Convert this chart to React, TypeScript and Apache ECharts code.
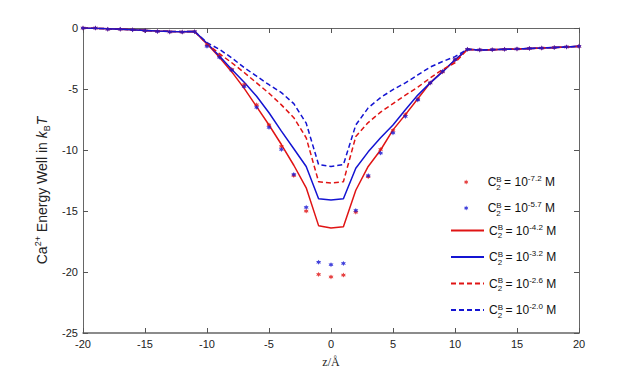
import React, { useEffect, useRef } from "react";
import * as echarts from "echarts";

const zValues = [
  -20, -19, -18, -17, -16, -15, -14, -13, -12, -11, -10, -9, -8, -7, -6, -5, -4, -3, -2, -1, 0,
  1, 2, 3, 4, 5, 6, 7, 8, 9, 10, 11, 12, 13, 14, 15, 16, 17, 18, 19, 20,
];

const exponents = ["-7.2", "-5.7", "-4.2", "-3.2", "-2.6", "-2.0"];

const redScatter = [
  0, 0, -0.1, -0.1, -0.15, -0.22, -0.28, -0.32, -0.33, -0.3,
  -1.4, -2.3, -3.4, -4.65, -6.3, -7.95, -9.7, -12.1, -15.0, -20.2, -20.4, -20.25, -15.1, -12.2, -9.95, -8.4, -7.1, -5.85, -4.5, -3.6, -2.6,
  -1.75, -1.8, -1.78, -1.75, -1.72, -1.68, -1.64, -1.6, -1.55, -1.5,
];
const blueScatter = [
  0, 0, -0.1, -0.1, -0.15, -0.22, -0.28, -0.32, -0.33, -0.3,
  -1.5, -2.4, -3.45, -4.8, -6.5, -8.15, -9.95, -12.0, -14.7, -19.2, -19.4, -19.3, -14.95, -12.1, -10.25, -8.6, -7.25, -5.9, -4.5, -3.55, -2.6,
  -1.75, -1.8, -1.78, -1.75, -1.72, -1.68, -1.64, -1.6, -1.55, -1.5,
];
const redSolid = [
  0, -0.02, -0.06, -0.1, -0.14, -0.2, -0.25, -0.28, -0.3, -0.28,
  -1.3, -2.4, -3.6, -4.95, -6.45, -7.95, -9.55, -11.25, -13.1, -16.2, -16.4, -16.3, -13.3, -11.35, -10.0, -8.35, -7.1, -5.8, -4.5, -3.55, -2.65,
  -1.75, -1.8, -1.78, -1.75, -1.72, -1.68, -1.64, -1.6, -1.55, -1.5,
];
const blueSolid = [
  0, -0.02, -0.06, -0.1, -0.14, -0.2, -0.25, -0.28, -0.3, -0.28,
  -1.25, -2.3, -3.4, -4.45, -5.6, -6.95, -8.45, -9.9, -11.35, -14.0, -14.1, -14.0, -11.5, -10.15, -9.0, -7.95, -6.7, -5.5, -4.5, -3.6, -2.6,
  -1.75, -1.8, -1.78, -1.75, -1.72, -1.68, -1.64, -1.6, -1.55, -1.5,
];
const redDashed = [
  0, -0.02, -0.06, -0.1, -0.14, -0.2, -0.25, -0.28, -0.3, -0.28,
  -1.3, -2.1, -2.85, -3.65, -4.5, -5.35, -6.3, -7.35, -9.0, -12.6, -12.7, -12.6, -8.9, -7.75, -6.9, -6.2, -5.5, -4.85, -4.1, -3.4, -2.85,
  -1.75, -1.8, -1.78, -1.75, -1.72, -1.68, -1.64, -1.6, -1.55, -1.5,
];
const blueDashed = [
  0, -0.02, -0.06, -0.1, -0.14, -0.2, -0.25, -0.28, -0.3, -0.28,
  -1.2, -1.75, -2.45, -3.25, -3.95, -4.65, -5.3, -6.2, -7.8, -11.2, -11.35, -11.2, -7.95, -6.55, -5.7, -5.05, -4.5, -3.85, -3.2, -2.75, -2.35,
  -1.75, -1.8, -1.78, -1.75, -1.72, -1.68, -1.64, -1.6, -1.55, -1.5,
];

const xTicks = { min: -20, max: 20, interval: 5 };
const yTicks = { min: -25, max: 0, interval: 5 };

const RED = "#e01414";
const BLUE = "#1414d2";
const FONT = "'Liberation Sans', Arial, sans-serif";
const STAR =
  "path://M0,-10L2.6,-4.5L8.7,-5L5.2,0L8.7,5L2.6,4.5L0,10L-2.6,4.5L-8.7,5L-5.2,0L-8.7,-5L-2.6,-4.5Z";

const seriesName = (i: number) => `C2B = 10^${exponents[i]} M`;

const pairs = (ys: number[]) => zValues.map((z, i) => [z, ys[i]]);

export default function App() {
  const ref = useRef<HTMLDivElement>(null);
  useEffect(() => {
    if (!ref.current) return;
    const chart = echarts.init(ref.current, undefined, { renderer: "svg" });

    const legendRich = {
      c: { fontSize: 12, fontFamily: FONT, color: "#111", lineHeight: 14 },
      sb: { fontSize: 8, fontFamily: FONT, color: "#111", verticalAlign: "top", height: 8, width: 0.001 },
      s2: { fontSize: 8, fontFamily: FONT, color: "#111", verticalAlign: "bottom", height: 4 },
      t: { fontSize: 12, fontFamily: FONT, color: "#111", lineHeight: 14 },
      e: { fontSize: 8, fontFamily: FONT, color: "#111", verticalAlign: "top", height: 7 },
    };
    const legendFormatter = (name: string) => {
      const exp = name.split("^")[1].replace(" M", "");
      return `{c|C}{sb|B}{s2|2}{t| = 10}{e|${exp}}{t| M}`;
    };

    const lineSeries = (i: number, ys: number[], color: string, dashed: boolean) => ({
      name: seriesName(i),
      type: "line",
      data: pairs(ys),
      symbol: "none",
      lineStyle: { color, width: 1.5, type: dashed ? [5, 3] : "solid" },
      itemStyle: { color },
      z: 2,
    });
    const scatterSeries = (i: number, ys: number[], color: string) => ({
      name: seriesName(i),
      type: "scatter",
      data: pairs(ys),
      symbol: STAR,
      symbolSize: 5,
      itemStyle: { color },
      z: 3,
    });

    const axisLine = { show: true, lineStyle: { color: "#666", width: 1 } };
    const axisTick = { show: true, inside: true, length: 5, lineStyle: { color: "#555" } };

    chart.setOption({
      animation: false,
      backgroundColor: "#fff",
      grid: { left: 83, right: 59, top: 28, bottom: 41, containLabel: false },
      xAxis: [
        {
          type: "value",
          ...xTicks,
          position: "bottom",
          axisLine: { show: true, onZero: false, lineStyle: { color: "#666", width: 1.5 } },
          axisTick,
          splitLine: { show: false },
          axisLabel: { color: "#222", fontSize: 11, fontFamily: FONT, margin: 5 },
          name: "z/Å",
          nameLocation: "middle",
          nameGap: 23,
          nameTextStyle: { fontFamily: "'Liberation Serif', 'Times New Roman', serif", fontSize: 12, color: "#222" },
        },
        {
          type: "value",
          ...xTicks,
          position: "top",
          axisLine: { ...axisLine, onZero: false },
          axisTick,
          splitLine: { show: false },
          axisLabel: { show: false },
        },
      ],
      yAxis: [
        {
          type: "value",
          ...yTicks,
          position: "left",
          axisLine: { ...axisLine, onZero: false },
          axisTick,
          splitLine: { show: false },
          axisLabel: { color: "#222", fontSize: 11, fontFamily: FONT, margin: 5 },
          name: "{n|Ca}{sp|2+}{n| Energy Well in }{it|k}{sb|B}{it|T}",
          nameLocation: "middle",
          nameGap: 30,
          nameTextStyle: {
            padding: [0, 20, 0, 0],
            rich: {
              n: { fontSize: 14, fontFamily: FONT, color: "#222", lineHeight: 16 },
              sp: { fontSize: 9, fontFamily: FONT, color: "#222", verticalAlign: "top", height: 8 },
              it: { fontSize: 14, fontFamily: FONT, fontStyle: "italic", color: "#222", lineHeight: 16 },
              sb: { fontSize: 9, fontFamily: FONT, color: "#222", verticalAlign: "bottom", height: 7 },
            },
          },
        },
        {
          type: "value",
          ...yTicks,
          position: "right",
          axisLine: { ...axisLine, onZero: false },
          axisTick,
          splitLine: { show: false },
          axisLabel: { show: false },
        },
      ],
      legend: [
        {
          orient: "vertical",
          left: 464,
          top: 174.5,
          padding: 0,
          itemWidth: 33,
          itemHeight: 5,
          itemGap: 9.5,
          data: [seriesName(0), seriesName(1)],
          formatter: legendFormatter,
          textStyle: { rich: legendRich, padding: 0 },
        },
        {
          orient: "vertical",
          left: 450,
          top: 223,
          padding: 0,
          itemWidth: 33,
          itemHeight: 14,
          itemGap: 10,
          itemStyle: { opacity: 0, color: "transparent", borderWidth: 0 },
          data: [seriesName(2), seriesName(3), seriesName(4), seriesName(5)],
          formatter: legendFormatter,
          textStyle: { rich: legendRich, padding: 0 },
        },
      ],
      series: [
        scatterSeries(0, redScatter, RED),
        scatterSeries(1, blueScatter, BLUE),
        lineSeries(2, redSolid, RED, false),
        lineSeries(3, blueSolid, BLUE, false),
        lineSeries(4, redDashed, RED, true),
        lineSeries(5, blueDashed, BLUE, true),
      ],
    });
    return () => chart.dispose();
  }, []);

  return (
    <div
      ref={ref}
      style={{ position: "absolute", left: 0, top: 0, width: 638, height: 374 }}
    />
  );
}
